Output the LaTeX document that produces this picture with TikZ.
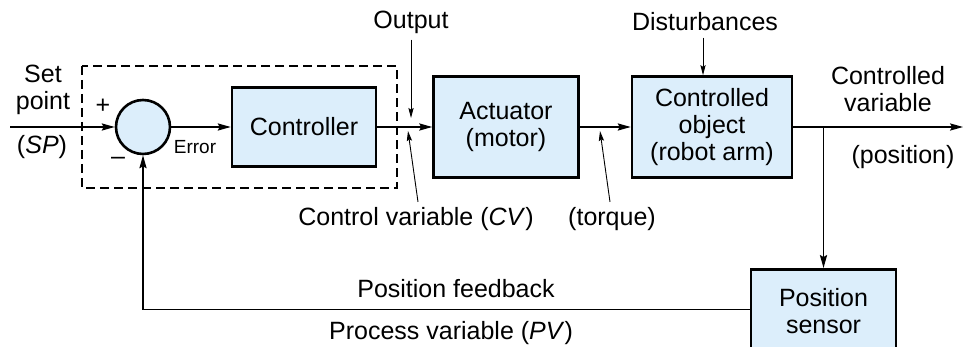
\documentclass[tikz,border=0pt]{standalone}
\usepackage{fontspec}
\setmainfont{Liberation Sans}
\usepackage{xcolor}
\definecolor{boxfill}{HTML}{DCEEFB}
\usetikzlibrary{arrows.meta}

\begin{document}
\begin{tikzpicture}[x=0.5pt, y=-0.5pt,
    >={Stealth[length=6.5pt, width=3.6pt, inset=1pt]},
    block/.style={draw, line width=1.3pt, fill=boxfill, align=center, inner sep=0pt,
                  font=\fontsize{12.5}{13.5}\selectfont},
    lbl/.style={align=center, inner sep=0pt, font=\fontsize{12.5}{13.5}\selectfont},
    small lbl/.style={inner sep=0pt, font=\fontsize{9.5}{11}\selectfont},
    signal/.style={->, line width=0.65pt},
    pointer/.style={-{Stealth[length=5pt, width=2.6pt, inset=0.8pt]}, line width=0.45pt}]
  % khung ảnh
  \useasboundingbox (0,0) rectangle (977,347);
  \clip (0,0) rectangle (977,347);
  % khung nét đứt quanh bộ điều khiển
  \draw[line width=1.3pt, dash pattern=on 4.5pt off 2.5pt] (82,66) rectangle (397,188);
  % các khối
  \node[draw, circle, line width=1.3pt, fill=boxfill, minimum size=27pt, inner sep=0pt]
    (sum) at (143,127) {};
  \node[block, minimum width=72pt, minimum height=39.5pt] (ctrl) at (304,127) {Controller};
  \node[block, minimum width=72.5pt, minimum height=50.5pt] (act) at (506,127)
    {Actuator\\(motor)};
  \node[block, minimum width=80pt, minimum height=50.5pt] (obj) at (712,127)
    {Controlled\\object\\(robot arm)};
  \node[block, minimum width=72.5pt, minimum height=42pt, anchor=north] (sens)
    at (823.5,268) {Position\\sensor};
  % đường tín hiệu chính
  \coordinate (spin) at (10,127);
  \coordinate (outend) at (963,127);
  \coordinate (branch) at (sens.north |- obj.east);
  \draw[signal] (spin) -- (sum.west);
  \draw[signal] (sum.east) -- (ctrl.west);
  \draw[signal] (ctrl.east) -- (act.west);
  \draw[signal] (act.east) -- (obj.west);
  \draw[signal] (obj.east) -- (outend);
  \draw[signal] (branch) -- (sens.north);
  % hồi tiếp
  \draw[signal] ([yshift=1pt]sens.west) -| (sum.south);
  % nhãn
  \node[lbl] (sp) at (43,90) {Set\\point};
  \node[lbl] (spb) at (42,147) {(\textit{SP})};
  \node[lbl] (plus) at (103,106) {+};
  \node[lbl] (minus) at (118,161) {\textendash};
  \node[small lbl] (err) at (195,147) {Error};
  \node[lbl] (outlbl) at (411,22) {Output};
  \node[lbl] (cvlbl) at (416,219) {Control variable (\textit{CV})};
  \node[lbl] (tqlbl) at (612,219) {(torque)};
  \node[lbl] (dstlbl) at (705,22) {Disturbances};
  \node[lbl] (cvar) at (888,89) {Controlled\\variable};
  \node[lbl] (pos) at (903,157) {(position)};
  \node[lbl] (fblbl) at (456,289) {Position feedback};
  \node[lbl] (pvlbl) at (451,333) {Process variable (\textit{PV})};
  % mũi tên chú thích
  \coordinate (outtip) at (411,118);
  \coordinate (cvtip) at (408,131);
  \coordinate (tqtip) at (600,131);
  \draw[pointer] ([shift={(0pt,-3pt)}]outlbl.south) -- (outtip);
  \draw[pointer] ([shift={(1pt,2.5pt)}]cvlbl.north) -- (cvtip);
  \draw[pointer] ([shift={(-1pt,2.5pt)}]tqlbl.north) -- (tqtip);
  \draw[pointer] ([shift={(-1pt,-3pt)}]dstlbl.south) -- ([xshift=-4.5pt]obj.north);
\end{tikzpicture}
\end{document}
